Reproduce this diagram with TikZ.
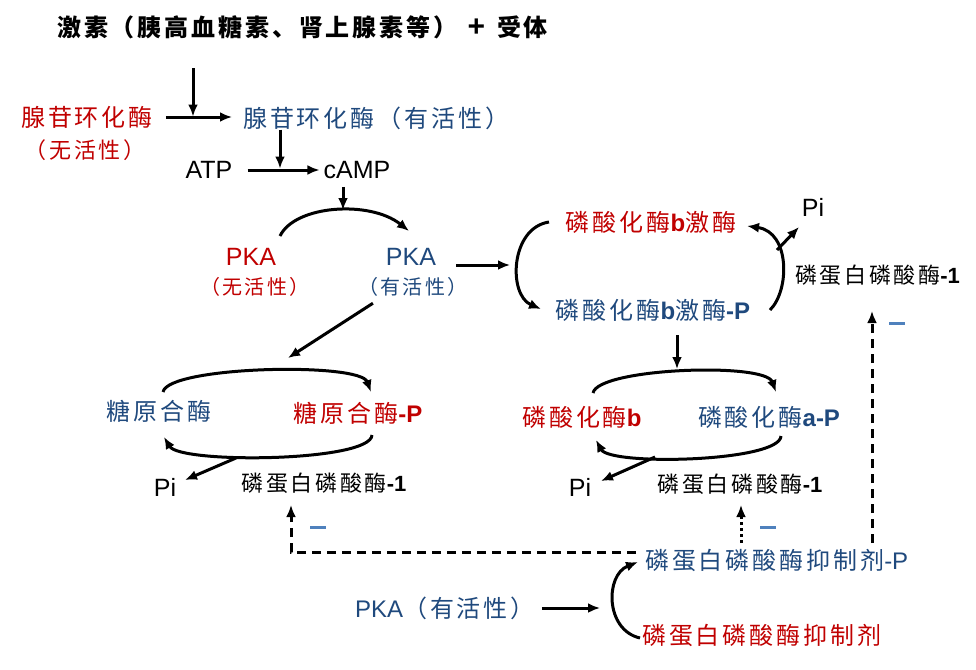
\documentclass[tikz,border=0pt]{standalone}
\usepackage{fontspec}
\setmainfont{Liberation Sans}
\newfontfamily\cjk[LetterSpace=12]{Noto Sans CJK SC}
\usetikzlibrary{arrows.meta, calc, positioning}
\definecolor{hred}{HTML}{C00000}
\definecolor{hblue}{HTML}{1F497D}
\definecolor{mblue}{HTML}{4F81BD}
\newcommand{\latb}[1]{{\rmfamily\bfseries #1}}
\tikzset
{%
txt/.style={inner sep=0pt, font=\cjk\fontsize{24}{28}\selectfont},
sub/.style={inner sep=0pt, font=\cjk\fontsize{20}{24}\selectfont},
lat/.style={inner sep=0pt, font=\fontsize{25}{28}\selectfont},
ppo/.style={inner sep=0pt, font=\cjk\fontsize{22}{26}\selectfont},
arr/.style={-{Latex[length=12pt,width=10pt]}, line width=3pt},
dsh/.style={arr, dash pattern=on 9pt off 6pt},
dtt/.style={arr, dash pattern=on 3pt off 3pt},
minus/.style={inner sep=0pt, fill=mblue, minimum width=16pt, minimum height=3pt}
}
\begin{document}
\begin{tikzpicture}[x=1pt, y=-1pt]
	\useasboundingbox (0,0) rectangle (976,669);
	%top: hormone, adenylate cyclase, cAMP
	\node[txt, anchor=west, font=\cjk\bfseries\fontsize{24}{28}\selectfont] (horm) at (57,27) {激素（胰高血糖素、肾上腺素等）\hspace{10pt}{\rmfamily\bfseries\fontsize{30}{30}\selectfont +}\hspace{12pt}受体};
	\node[txt, hred] (acin) at (87,117) {腺苷环化酶};
	\node[sub, hred, font=\cjk\fontsize{22}{26}\selectfont] (acinsub) at (85,150) {（无活性）};
	\node[txt, hblue, anchor=west] (acact) at (243,118) {腺苷环化酶（有活性）};
	\node[lat] (atp) at (209,170) {ATP};
	\node[lat] (camp) at (357,170) {cAMP};
	
	%PKA
	\node[lat, hred] (pka0) at (251,257) {PKA};
	\node[sub, hred] (pka0sub) at (255,287) {（无活性）};
	\node[lat, hblue] (pka1) at (411,257) {PKA};
	\node[sub, hblue] (pka1sub) at (413,287) {（有活性）};
	
	%phosphorylase kinase
	\node[txt, hred] (phk) at (651,222) {磷酸化酶\latb{b}激酶};
	\node[txt, hblue] (phkp) at (653,310) {磷酸化酶\latb{b}激酶\latb{-P}};
	\node[lat] (pi1) at (813,207) {Pi};
	\node[ppo, anchor=west] (pp1a) at (795,275) {磷蛋白磷酸酶\latb{-1}};
	
	%glycogen synthase
	\node[txt, hblue] (gs) at (159,411) {糖原合酶};
	\node[txt, hred] (gsp) at (358,413) {糖原合酶\latb{-P}};
	\node[lat] (pi2) at (165,487) {Pi};
	\node[ppo] (pp1b) at (324,483) {磷蛋白磷酸酶\latb{-1}};
	
	%phosphorylase
	\node[txt, hred] (phb) at (582,417) {磷酸化酶\latb{b}};
	\node[txt, hblue] (pha) at (769,417) {磷酸化酶\latb{a-P}};
	\node[lat] (pi3) at (580,487) {Pi};
	\node[ppo] (pp1c) at (740,484) {磷蛋白磷酸酶\latb{-1}};
	
	%inhibitor
	\node[txt, hblue, anchor=west] (inhp) at (645,560) {磷蛋白磷酸酶抑制剂{\rmfamily -P}};
	\node[txt, hred, anchor=west] (inh) at (642,635) {磷蛋白磷酸酶抑制剂};
	\node[txt, hblue, anchor=west] (pka2) at (355,608) {{\rmfamily PKA}（有活性）};
	\node[minus] (m1) at (318,527) {};
	\node[minus] (m2) at (768,527) {};
	\node[minus] (m3) at (897,323) {};
	
	%free ends
	\coordinate (hs) at (193,68);
	\coordinate (hj) at (193,118);
	\coordinate (aj) at (280,170);
	\coordinate (kt) at (343,210);
	\coordinate (k0) at (280,236);
	\coordinate (k1) at (409,231);
	\coordinate (c1) at (510,265);
	\coordinate (r0) at (549,222);
	\coordinate (r1) at (541,309);
	\coordinate (r2) at (770,310);
	\coordinate (r3) at (747,226);
	\coordinate (b1) at (777,250);
	\coordinate (p1t) at (799,227);
	\coordinate (dt) at (677,369);
	\coordinate (f0) at (593,393);
	\coordinate (f1) at (776,392);
	\coordinate (f2) at (781,436);
	\coordinate (f3) at (596,440);
	\coordinate (b3) at (655,457);
	\coordinate (p3t) at (601,481);
	\coordinate (gt) at (288,358);
	\coordinate (g0) at (163,392);
	\coordinate (g1) at (371,392);
	\coordinate (g2) at (372,435);
	\coordinate (g3) at (164,437);
	\coordinate (b2) at (236,458);
	\coordinate (p2t) at (185,480);
	\coordinate (dd0) at (636,552);
	\coordinate (dd1) at (291,505);
	\coordinate (dv0) at (872,543);
	\coordinate (dv1) at (872,311);
	\coordinate (dp0) at (741,543);
	\coordinate (dp1) at (741,505);
	\coordinate (ia) at (600,608);
	\coordinate (i0) at (640,638);
	\coordinate (i1) at (638,562);
	
	\draw[arr, shorten >=1.5pt] (hs) -- (hj);
	\draw[arr, shorten <=13pt, shorten >=11pt] (acin.east) -- (acin.east -| acact.west);
	\draw[arr, shorten >=1.5pt] (acact.south -| aj) -- (aj);
	\draw[arr, shorten <=15pt, shorten >=4pt] (atp) -- (camp);
	\draw[arr, shorten <=8pt] (camp.south -| kt) -- (kt);
	\draw[arr] (k0) .. controls (295,205) and (370,200) .. (k1);
	\draw[arr, shorten <=20pt] (pka1.east |- c1) -- (c1);
	
	\draw[arr] (r0) .. controls (510,228) and (508,295) .. (r1);
	\draw[arr] (r2) .. controls (790,290) and (790,232) .. (r3);
	\draw[arr] (b1) -- (p1t);
	\draw[arr, shorten <=14pt] (phkp.south -| dt) -- (dt);
	
	\draw[arr] (f0) .. controls (598,368) and (765,362) .. (f1);
	\draw[arr] (f2) .. controls (780,462) and (610,466) .. (f3);
	\draw[arr] (b3) -- (p3t);
	
	\draw[arr, shorten <=12pt] (pka1sub.south -| 383,0) -- (gt);
	\draw[arr] (g0) .. controls (168,366) and (360,362) .. (g1);
	\draw[arr] (g2) .. controls (371,462) and (180,464) .. (g3);
	\draw[arr] (b2) -- (p2t);
	
	\draw[dsh] (dd0) -| (dd1);
	\draw[dsh] (dv0) -- (dv1);
	\draw[dtt] (dp0) -- (dp1);
	
	\draw[arr, shorten <=7pt] (pka2.east |- ia) -- (ia);
	\draw[arr] (i0) .. controls (605,630) and (605,575) .. (i1);
\end{tikzpicture}
\end{document}
